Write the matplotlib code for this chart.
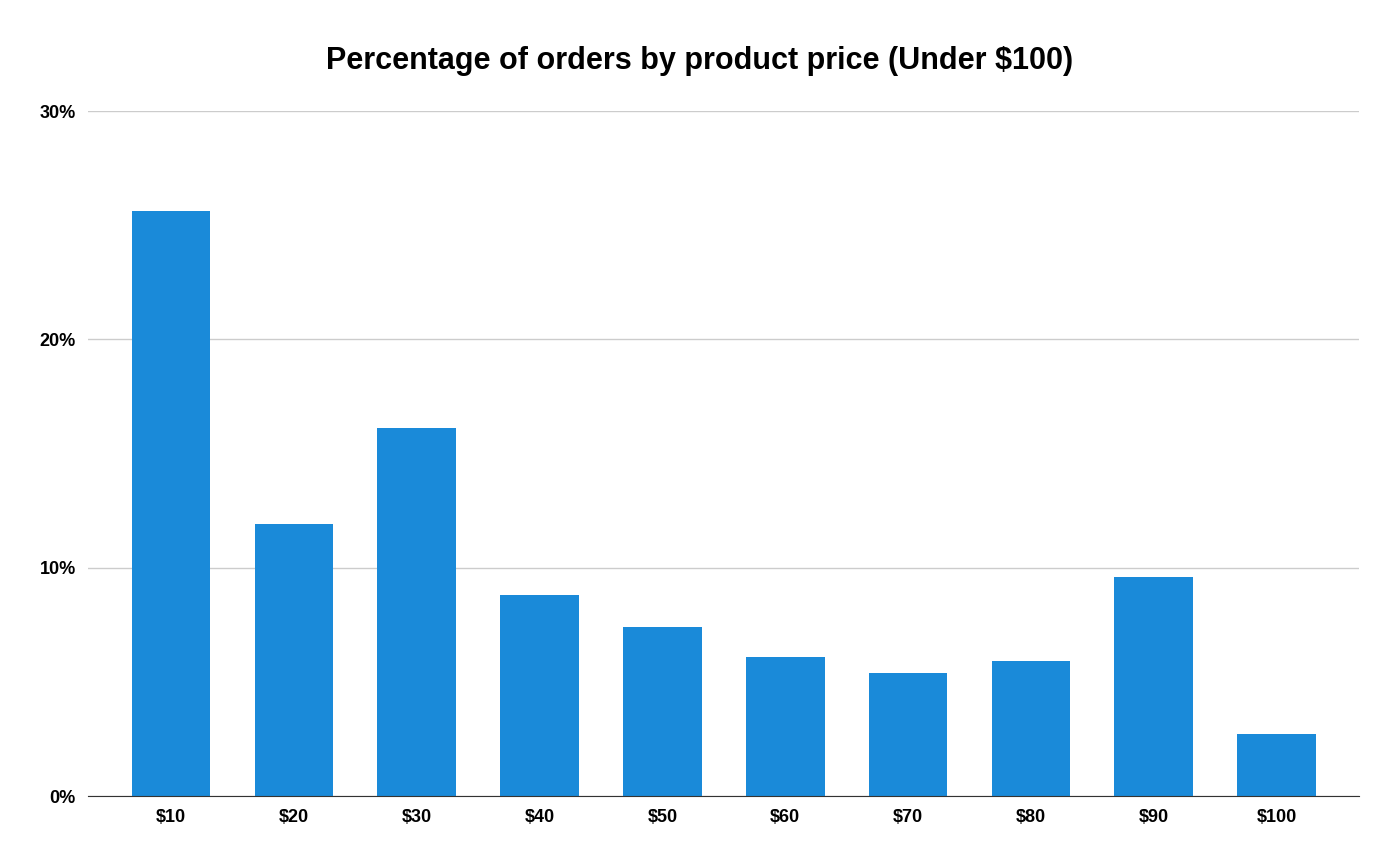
import matplotlib.pyplot as plt
from matplotlib.ticker import FuncFormatter

# share of orders in each price bucket
prices = ["$10", "$20", "$30", "$40", "$50", "$60", "$70", "$80", "$90", "$100"]
pct_orders = [25.6, 11.9, 16.1, 8.8, 7.4, 6.1, 5.4, 5.9, 9.6, 2.7]

plt.rcParams["font.family"] = ["Liberation Sans", "DejaVu Sans"]

fig = plt.figure(figsize=(14, 8.64), dpi=100)
ax = fig.add_axes([0.063, 0.0787, 0.908, 0.7928])

ax.bar(range(len(prices)), pct_orders, width=0.64, color="#1a8ad9", zorder=2)

ax.set_xlim(-0.675, len(prices) - 1 + 0.675)
ax.set_ylim(0, 30)
ax.set_yticks([0, 10, 20, 30])
ax.yaxis.set_major_formatter(FuncFormatter(lambda v, p: f"{v:.0f}%"))
ax.set_xticks(range(len(prices)))
ax.set_xticklabels(prices)

# light horizontal grid, dark baseline only
ax.grid(axis="y", color="#cccccc", linewidth=1, zorder=0)
for side in ["top", "right", "left"]:
    ax.spines[side].set_visible(False)
ax.spines["bottom"].set_color("#333333")
ax.spines["bottom"].set_zorder(3)
ax.tick_params(length=0, labelsize=13, pad=9)
for lbl in ax.get_xticklabels() + ax.get_yticklabels():
    lbl.set_fontweight("bold")

fig.suptitle("Percentage of orders by product price (Under $100)", y=0.947,
             fontsize=22, fontweight="bold")

fig.savefig("out.png", dpi=100)
